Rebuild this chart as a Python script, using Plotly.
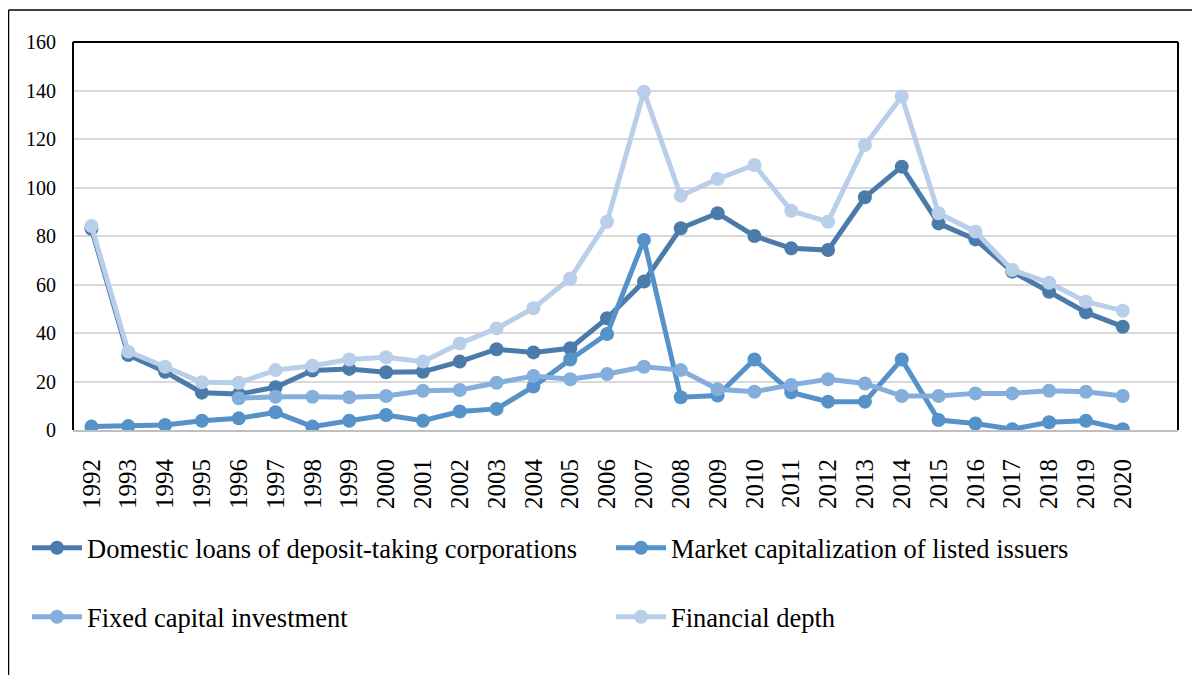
import plotly.graph_objects as go

years = list(range(1992, 2021))
year_labels = [str(y) for y in years]

domestic_loans = [83.0, 30.9, 24.0, 15.4, 14.8, 17.6, 24.5, 25.2, 23.8, 24.0,
                  28.2, 33.3, 32.0, 33.7, 46.1, 61.2, 83.2, 89.4, 80.0, 74.9,
                  74.2, 96.0, 108.6, 85.2, 78.6, 65.3, 57.0, 48.5, 42.6]
market_cap = [1.4, 1.6, 2.1, 3.8, 4.8, 7.3, 1.4, 3.8, 6.2, 3.8,
              7.6, 8.7, 17.9, 29.1, 39.6, 78.4, 13.5, 14.2, 29.1, 15.5,
              11.7, 11.7, 29.1, 4.1, 2.7, 0.3, 3.2, 3.8, 0.3]
fixed_capital = [None, None, None, None, 13.1, 13.7, 13.7, 13.5, 14.0, 16.2,
                 16.5, 19.5, 22.3, 20.9, 23.1, 26.1, 24.7, 16.8, 15.8, 18.6,
                 20.9, 19.2, 14.0, 14.0, 15.1, 15.1, 16.2, 15.8, 14.0]
financial_depth = [84.1, 32.3, 26.1, 19.7, 19.5, 24.7, 26.5, 29.1, 30.0, 28.2,
                   35.7, 41.9, 50.2, 62.5, 85.9, 139.5, 96.6, 103.5, 109.3, 90.4,
                   85.9, 117.5, 137.5, 89.4, 81.8, 66.0, 60.7, 52.9, 49.2]

series_names = ["Domestic loans of deposit-taking corporations",
                "Market capitalization of listed issuers",
                "Fixed capital investment",
                "Financial depth"]
series_values = [domestic_loans, market_cap, fixed_capital, financial_depth]
colors = ["#4A7BAB", "#5592C9", "#84AEDC", "#B9CEE9"]
legend_ids = ["legend", "legend2", "legend3", "legend4"]

FONT = "Liberation Serif, Times New Roman, serif"

fig = go.Figure()
for name, vals, col, lg in zip(series_names, series_values, colors, legend_ids):
    fig.add_trace(go.Scatter(
        x=years, y=vals, name=name, mode="lines+markers",
        line=dict(color=col, width=5),
        marker=dict(color=col, size=14),
        legend=lg, connectgaps=False,
    ))

W, H = 1200, 675
def legend_at(px, py):
    return dict(
        x=px / W, y=1 - py / H, xref="container", yref="container",
        xanchor="left", yanchor="middle",
        bgcolor="rgba(0,0,0,0)", borderwidth=0,
        font=dict(family=FONT, size=26.5, color="black"),
        itemwidth=50,
    )

# plot area in figure pixels
PL, PT, PR, PB = 65, 34, 1170, 422
PW, PH = PR - PL, PB - PT

fig.update_layout(
    width=W, height=H,
    paper_bgcolor="white", plot_bgcolor="white",
    margin=dict(l=PL, r=W - PR, t=PT, b=H - PB, autoexpand=False),
    font=dict(family=FONT, size=21, color="black"),
    showlegend=True,
    legend=legend_at(19, 540),
    legend2=legend_at(603, 540),
    legend3=legend_at(19, 609),
    legend4=legend_at(603, 609),
    xaxis=dict(
        range=[1991.5, 2021.5],
        tickmode="array", tickvals=years, ticktext=year_labels,
        tickangle=-90, ticks="", showgrid=False, zeroline=False,
        showline=True, linecolor="#BFBFBF", linewidth=2,
        tickfont=dict(family=FONT, size=25, color="black"),
        ticklabelstandoff=17, automargin=False,
    ),
    yaxis=dict(
        range=[0, 160], tickmode="array",
        tickvals=[0, 20, 40, 60, 80, 100, 120, 140, 160],
        ticks="", showgrid=True, gridcolor="#D9D9D9", gridwidth=1.5,
        zeroline=False, showline=False,
        tickfont=dict(family=FONT, size=20, color="black"),
        ticklabelstandoff=16, automargin=False,
    ),
)

# plot-area border (top, left, right) in black
fig.add_shape(type="line", xref="paper", yref="paper", x0=0, x1=1, y0=1, y1=1,
              line=dict(color="black", width=2), layer="above")
fig.add_shape(type="line", xref="paper", yref="paper", x0=0, x1=0, y0=0, y1=1,
              line=dict(color="black", width=2), layer="above")
fig.add_shape(type="line", xref="paper", yref="paper", x0=1, x1=1, y0=0, y1=1,
              line=dict(color="black", width=2), layer="above")

# outer chart frame (top and left edges visible)
fx = (0.6 - PL) / PW
fy = (PB - 2) / PH
fig.add_shape(type="line", xref="paper", yref="paper",
              x0=fx, x1=1.2, y0=fy, y1=fy,
              line=dict(color="black", width=1.3), layer="above")
fig.add_shape(type="line", xref="paper", yref="paper",
              x0=fx, x1=fx, y0=fy, y1=-1,
              line=dict(color="black", width=1.3), layer="above")

fig.write_html("out.html")
